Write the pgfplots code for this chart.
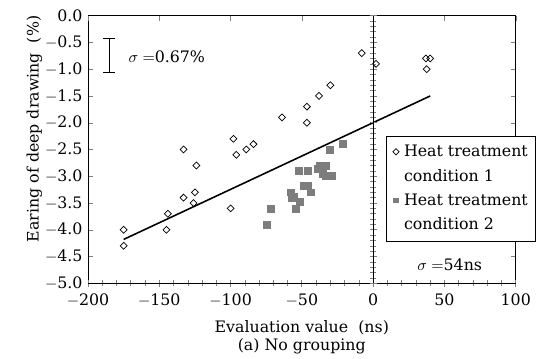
\documentclass[border=0pt]{standalone}
\usepackage{fontspec}
\setmainfont{DejaVu Serif}
\usepackage{pgfplots}
\usepackage{pgfplotstable}
\pgfplotsset{compat=1.18}
\definecolor{sqgray}{RGB}{125,125,125}

\pgfplotstableread{
x y
-175 -4.0
-175 -4.3
-144 -3.7
-145 -4.0
-133 -3.4
-125 -3.3
-126 -3.5
-133 -2.5
-124 -2.8
-100 -3.6
-98 -2.3
-96 -2.6
-89 -2.5
-84 -2.4
-64 -1.9
-46.5 -1.7
-46.5 -2.0
-38 -1.5
-30 -1.3
-8 -0.7
2 -0.9
37 -0.8
40 -0.8
37.5 -1.0
}\condA

\pgfplotstableread{
x y
-74.5 -3.9
-72 -3.6
-52 -2.9
-46 -2.9
-39 -2.87
-37.5 -2.8
-33.5 -2.8
-35 -2.95
-33 -3.0
-29 -3.0
-30.5 -2.5
-21 -2.4
-49 -3.18
-46 -3.18
-44 -3.3
-57.5 -3.3
-55.5 -3.38
-57 -3.4
-51.5 -3.48
-54 -3.6
}\condB

\begin{document}
\begin{tikzpicture}
\path[use as bounding box] (-55.7pt,-47.3pt) rectangle (287.3pt,179.3pt);
% main axis
\begin{axis}[
  name=A,
  scale only axis, width=270.7pt, height=169.4pt,
  xmin=-200, xmax=100, ymin=-5, ymax=0,
  xtick={-200,-150,-100,-50,0,50,100},
  xticklabels={$-$200,$-$150,$-$100,$-$50,0,50,100},
  ytick={-5,-4.5,-4,-3.5,-3,-2.5,-2,-1.5,-1,-0.5,0},
  yticklabels={$-$5.0,$-$4.5,$-$4.0,$-$3.5,$-$3.0,$-$2.5,$-$2.0,$-$1.5,$-$1.0,$-$0.5,0.0},
  xtick style={draw=none},
  tick align=inside, major tick length=3.2pt,
  xticklabel style={yshift=-3pt},
  axis line style={line width=0.6pt},
  legend style={at={(0.696,0.550)}, anchor=north west, draw=black, fill=white,
    line width=0.5pt, row sep=2.5pt, inner xsep=2.5pt, inner ysep=3.5pt,
    cells={align=left, font=\fontsize{10}{15.5}\selectfont}},
  legend cell align=left,
  legend image code/.code={\path[draw=none,fill=none] (0cm,0.28cm) -- (0.24cm,0.28cm);\draw[mark repeat=2,mark phase=2,#1,only marks] plot coordinates {(0cm,0.28cm)(0.13cm,0.28cm)(0.24cm,0.28cm)};},
  legend image post style={mark size=1.4pt},
]
\addplot[only marks, mark=square, mark options={rotate=45, black, line width=0.45pt, fill=white}, mark size=1.55pt]
  table[x=x,y=y] {\condA};
\addlegendentry{Heat treatment\\condition 1}
\addplot[only marks, mark=square*, mark options={sqgray, rounded corners=0.6pt}, mark size=2.2pt]
  table[x=x,y=y] {\condB};
\addlegendentry{Heat treatment\\condition 2}
\addplot[black, line width=1pt, forget plot] coordinates {(-175,-4.18) (40,-1.5)};
\draw[line width=0.6pt] (axis cs:-185.3,-0.435) -- (axis cs:-185.3,-1.06);
\draw[line width=0.6pt] (axis cs:-189.2,-0.435) -- (axis cs:-181.4,-0.435);
\draw[line width=0.6pt] (axis cs:-189.2,-1.06) -- (axis cs:-181.4,-1.06);
\node[anchor=west] at (axis cs:-175.5,-0.765) {$\sigma=$0.67\%};
\node at (axis cs:53.7,-4.66) {$\sigma=$54ns};
\end{axis}
% bottom ticks
\begin{axis}[
  scale only axis, width=270.7pt, height=169.4pt,
  xmin=-200, xmax=100, ymin=-5, ymax=0,
  axis x line=bottom, axis y line=none,
  xtick={-200,-150,-100,-50,0,50,100}, minor x tick num=4,
  xticklabels={}, tick align=center,
  major tick length=4.4pt, minor tick length=3.8pt,
  axis line style={-, line width=0.6pt},
  major tick style={line width=0.6pt}, minor tick style={line width=0.4pt},
]
\end{axis}
% top ticks
\begin{axis}[
  scale only axis, width=270.7pt, height=169.4pt,
  xmin=-200, xmax=100, ymin=-5, ymax=0,
  axis x line=top, axis y line=none,
  xtick={-200,-150,-100,-50,0,50,100},
  xticklabels={}, tick align=inside,
  major tick length=3.2pt,
  axis line style={-, line width=0.6pt},
]
\end{axis}
% zero line
\begin{axis}[
  scale only axis, width=270.7pt, height=169.4pt,
  xmin=-200, xmax=100, ymin=-5, ymax=0,
  axis y line=center, axis x line=none,
  ytick={-5,-4.5,-4,-3.5,-3,-2.5,-2,-1.5,-1,-0.5,0}, minor y tick num=4,
  yticklabels={}, tick align=center,
  major tick length=4.4pt, minor tick length=3.8pt,
  axis line style={-, line width=0.65pt},
  major tick style={line width=0.5pt}, minor tick style={line width=0.4pt},
]
\end{axis}
\node[anchor=base] at (135.3pt,-31.3pt) {Evaluation value\ \ (ns)};
\node[anchor=base] at (135.3pt,-42.8pt) {(a) No grouping};
\node[rotate=90, anchor=base] at (-31.3pt,97.7pt) {Earing of deep drawing\ \ (\%)};
\end{tikzpicture}
\end{document}
